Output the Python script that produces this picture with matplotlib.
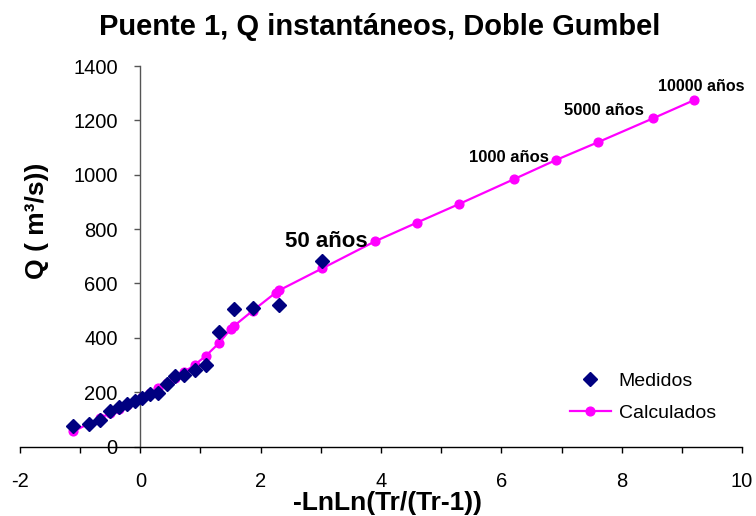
import matplotlib
matplotlib.use("Agg")
import matplotlib.pyplot as plt
from matplotlib.ticker import MultipleLocator

plt.rcParams['font.family'] = ['Liberation Sans', 'DejaVu Sans']
plt.rcParams['axes.unicode_minus'] = False

# valores medidos (posicion de ploteo -LnLn(Tr/(Tr-1)), caudal)
x_med = [-1.113, -0.855, -0.666, -0.506, -0.361, -0.225, -0.094, 0.036, 0.166, 0.298,
         0.435, 0.580, 0.733, 0.903, 1.090, 1.302, 1.554, 1.870, 2.302, 3.020]
q_med = [77, 81, 98, 130, 145, 155, 167, 179, 193, 198,
         231, 258, 263, 283, 300, 420, 505, 510, 522, 684]

# valores calculados con doble Gumbel
x_calc = [-1.113, -0.855, -0.666, -0.506, -0.361, -0.225, -0.094, 0.036, 0.166, 0.298,
          0.435, 0.580, 0.733, 0.903, 1.090, 1.302, 1.500, 1.554, 1.870, 2.250,
          2.302, 3.020, 3.902, 4.600, 5.296, 6.214, 6.907, 7.600, 8.517, 9.210]
q_calc = [56, 84, 105, 122, 138, 152, 167, 182, 198, 215,
          233, 252, 275, 300, 334, 379, 432, 443, 500, 566,
          574, 655, 755, 824, 892, 984, 1054, 1119, 1207, 1275]

# etiquetas de periodo de retorno
etiquetas = ['50 años', '1000 años', '5000 años', '10000 años']
x_etiq = [3.902, 6.907, 8.517, 9.210]
q_etiq = [755, 1054, 1207, 1275]

fig = plt.figure(figsize=(7.56, 5.16), dpi=100)
ax = fig.add_axes([20 / 756, 1 - 446.5 / 516, 722 / 756, 380.5 / 516])

l_calc, = ax.plot(x_calc, q_calc, color='#FF00FF', lw=1.6, marker='o', ms=6.3,
                  mec='#FF00FF', mfc='#FF00FF', zorder=2, label='Calculados')
l_med, = ax.plot(x_med, q_med, ls='none', marker='D', ms=6.8, color='#000080',
                 mec='#000080', zorder=3, label='Medidos')

ax.set_xlim(-2, 10)
ax.set_ylim(0, 1400)
ax.xaxis.set_major_locator(MultipleLocator(2))
ax.xaxis.set_minor_locator(MultipleLocator(1))
ax.yaxis.set_major_locator(MultipleLocator(200))

for s in ['top', 'right']:
    ax.spines[s].set_visible(False)
ax.spines['left'].set_position(('data', 0))
ax.spines['left'].set_color('#555555')
ax.spines['left'].set_linewidth(1.0)
ax.spines['bottom'].set_color('black')
ax.spines['bottom'].set_linewidth(1.0)

ax.tick_params(axis='x', which='both', direction='out', length=4.3, width=1.0,
               color='black', labelsize=14.5, pad=14)
ax.tick_params(axis='y', direction='out', length=4.3, width=1.0, color='#555555',
               labelsize=14.5, pad=12)

fig.text(380 / 756, 1 - 35 / 516, 'Puente 1, Q instantáneos, Doble Gumbel',
         ha='center', va='baseline', fontsize=21, fontweight='bold')
fig.text(388 / 756, 1 - 503 / 516, '-LnLn(Tr/(Tr-1))', ha='center', va='center',
         fontsize=19, fontweight='bold')
fig.text(37 / 756, 1 - 221 / 516, 'Q ( m³/s))', ha='center', va='center',
         rotation=90, fontsize=19, fontweight='bold')

offsets = [(-49, 0), (-47, 3), (-49, 8), (7, 13)]
tamanos = [16, 12, 12, 11.5]
for txt, xe, qe, off, fs in zip(etiquetas, x_etiq, q_etiq, offsets, tamanos):
    ax.annotate(txt, xy=(xe, qe), xytext=off, textcoords='offset pixels',
                ha='center', va='center', fontsize=fs, fontweight='bold')

fig.legend(handles=[l_med, l_calc], loc='center left',
           bbox_to_anchor=(570 / 756, 1 - 397 / 516), frameon=False,
           fontsize=14, handlelength=2.1, handletextpad=0.4, labelspacing=0.75,
           borderpad=0, borderaxespad=0)

fig.savefig('out.png', dpi=100)
